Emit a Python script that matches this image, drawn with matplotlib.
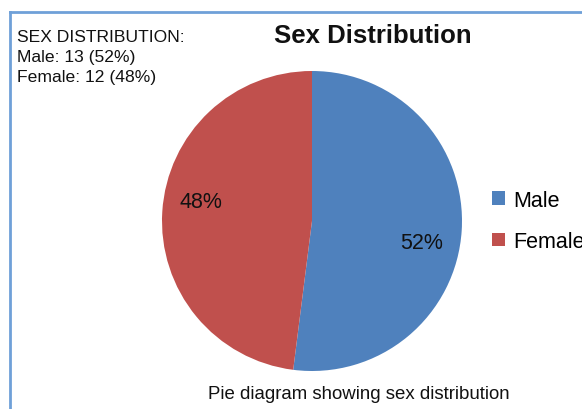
import matplotlib
matplotlib.use("Agg")
import matplotlib.pyplot as plt
from matplotlib.lines import Line2D

labels = ["Male", "Female"]
counts = [13, 12]
colors = ["#4F81BD", "#C0504D"]
title = "Sex Distribution"
note = "SEX DISTRIBUTION:\nMale: 13 (52%)\nFemale: 12 (48%)"
caption = "Pie diagram showing sex distribution"

W, H = 582, 410
fig = plt.figure(figsize=(W / 100, H / 100), dpi=100)
fig.patch.set_facecolor("white")

# light blue frame (top and left edges visible)
fig.add_artist(Line2D([10.5 / W, 10.5 / W], [0, 1 - 12.5 / H], transform=fig.transFigure,
                      color="#6FA0D8", lw=2))
fig.add_artist(Line2D([10.5 / W, 1], [1 - 12.5 / H, 1 - 12.5 / H], transform=fig.transFigure,
                      color="#6FA0D8", lw=2))

ax = fig.add_axes([162 / W, 1 - 372 / H, 300 / W, 300 / H])
wedges, texts, autotexts = ax.pie(counts, colors=colors, startangle=90, counterclock=False,
                                  autopct="%1.0f%%", pctdistance=0.74,
                                  textprops={"fontsize": 15.5, "family": "Liberation Sans",
                                             "color": "#111"})
# Excel-like label placement
autotexts[0].set_position((0.733, -0.143))
autotexts[1].set_position((-0.74, 0.13))
ax.set_xlim(-1, 1); ax.set_ylim(-1, 1)
ax.set_aspect("equal")

fig.text(373 / W, 1 - 36 / H, title, ha="center", va="center", fontsize=18.5,
         fontweight="bold", family="Liberation Sans", color="#111")
fig.text(17 / W, 1 - 30 / H, note, ha="left", va="top", fontsize=12.6,
         family="Liberation Sans", color="#111", linespacing=1.42)
fig.text(359 / W, 1 - 395 / H, caption, ha="center", va="center", fontsize=13.4,
         family="Liberation Sans", color="#111")

fig.legend(wedges, labels, loc="center left", bbox_to_anchor=(473 / W, 1 - 222 / H),
           frameon=False, handlelength=0.6, handleheight=0.6, handletextpad=0.35,
           labelspacing=0.95, prop={"family": "Liberation Sans", "size": 15.5})

fig.savefig("out.png", dpi=100)
